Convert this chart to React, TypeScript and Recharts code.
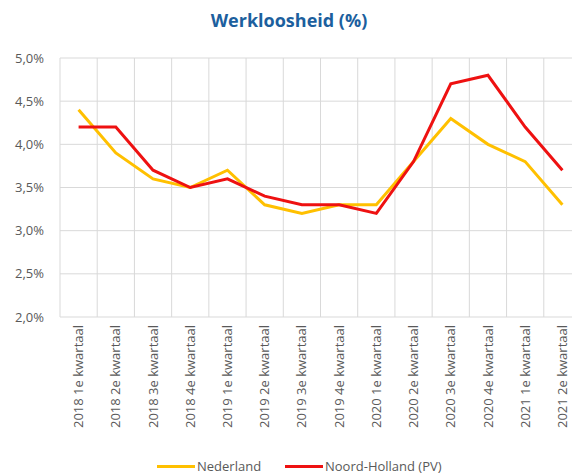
import React from 'react';
import { LineChart, Line, XAxis, YAxis, CartesianGrid } from 'recharts';

const categories = [
  '2018 1e kwartaal', '2018 2e kwartaal', '2018 3e kwartaal', '2018 4e kwartaal',
  '2019 1e kwartaal', '2019 2e kwartaal', '2019 3e kwartaal', '2019 4e kwartaal',
  '2020 1e kwartaal', '2020 2e kwartaal', '2020 3e kwartaal', '2020 4e kwartaal',
  '2021 1e kwartaal', '2021 2e kwartaal',
];
const nederland = [4.4, 3.9, 3.6, 3.5, 3.7, 3.3, 3.2, 3.3, 3.3, 3.8, 4.3, 4.0, 3.8, 3.3];
const noordHolland = [4.2, 4.2, 3.7, 3.5, 3.6, 3.4, 3.3, 3.3, 3.2, 3.8, 4.7, 4.8, 4.2, 3.7];
const yTicks = [2.0, 2.5, 3.0, 3.5, 4.0, 4.5, 5.0];

const data = categories.map((c, i) => ({ cat: c, nl: nederland[i], nh: noordHolland[i] }));

const FONT = '"Open Sans", sans-serif';
const GREY = '#595959';
const YELLOW = '#FFC000';
const RED = '#EE1111';

const XTick = (props: any) => {
  const { x, y, payload } = props;
  return (
    <g transform={`translate(${x},${y})`}>
      <text
        transform="rotate(-90)"
        textAnchor="end"
        dy="0.35em"
        fontFamily={FONT}
        fontSize={13}
        fill={GREY}
      >
        {payload.value}
      </text>
    </g>
  );
};

export default function App() {
  return (
    <div style={{ position: 'absolute', left: 0, top: 0, width: 572, height: 474, overflow: 'hidden', background: '#fff' }}>
      <div
        style={{
          position: 'absolute', left: 0, top: 8, width: 578, textAlign: 'center',
          fontFamily: FONT, fontWeight: 700, fontSize: 18, color: '#1c5f9e', lineHeight: '24px',
        }}
      >
        Werkloosheid (%)
      </div>
      <div style={{ position: 'absolute', left: 0, top: 0 }}>
        <LineChart width={600} height={474} data={data} margin={{ top: 58, right: 19, left: 0, bottom: 37 }}>
          <CartesianGrid
            stroke="#d9d9d9"
            verticalCoordinatesGenerator={({ offset }: any) =>
              Array.from({ length: categories.length + 1 }, (_, i) => offset.left + (i * offset.width) / categories.length)
            }
          />
          <XAxis
            dataKey="cat"
            interval={0}
            height={120}
            axisLine={false}
            tickLine={false}
            tickMargin={2}
            padding={{ left: 18.6, right: 18.6 }}
            tick={<XTick />}
          />
          <YAxis
            width={60}
            domain={[2, 5]}
            ticks={yTicks}
            axisLine={false}
            tickLine={false}
            tickMargin={10}
            tick={{ fontFamily: FONT, fontSize: 13, fill: GREY }}
            tickFormatter={(v: number) => v.toFixed(1).replace('.', ',') + '%'}
          />
          <Line dataKey="nl" stroke={YELLOW} strokeWidth={3} dot={false} isAnimationActive={false} />
          <Line dataKey="nh" stroke={RED} strokeWidth={3} dot={false} isAnimationActive={false} />
        </LineChart>
      </div>
      <div style={{ position: 'absolute', left: 157, top: 457, fontFamily: FONT, fontSize: 13, color: GREY, display: 'flex', alignItems: 'center', whiteSpace: 'nowrap' }}>
        <span style={{ display: 'inline-block', width: 38, height: 3, background: YELLOW, marginRight: 2 }} />
        <span>Nederland</span>
      </div>
      <div style={{ position: 'absolute', left: 285, top: 457, fontFamily: FONT, fontSize: 13, color: GREY, display: 'flex', alignItems: 'center', whiteSpace: 'nowrap' }}>
        <span style={{ display: 'inline-block', width: 38, height: 3, background: RED, marginRight: 2 }} />
        <span>Noord-Holland (PV)</span>
      </div>
    </div>
  );
}
